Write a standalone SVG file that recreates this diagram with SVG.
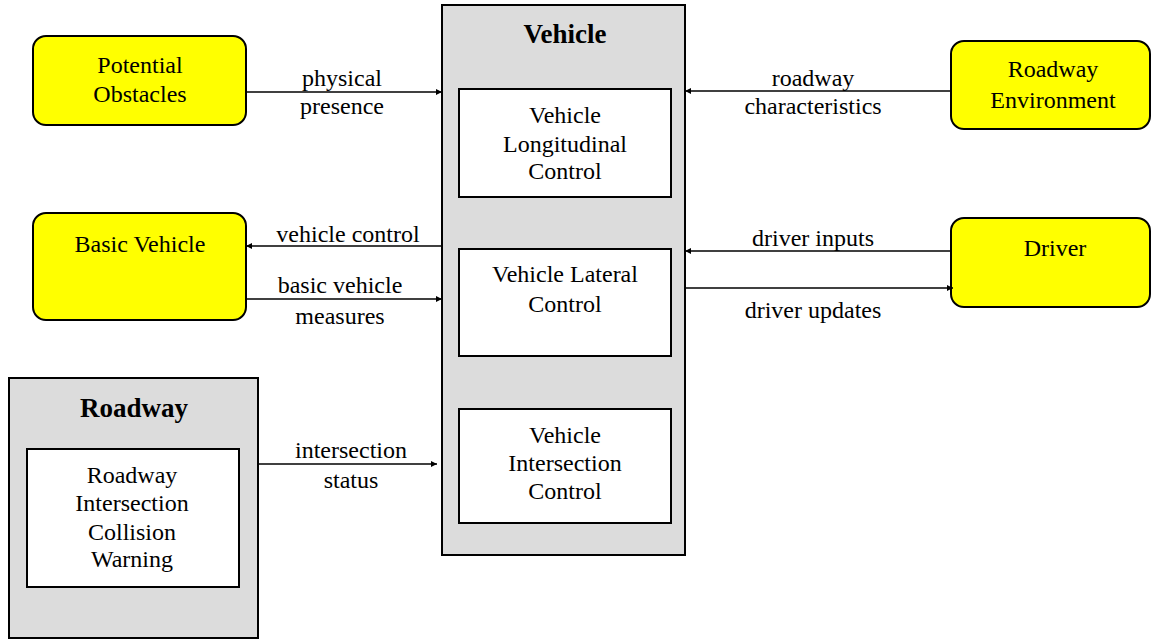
<svg xmlns="http://www.w3.org/2000/svg" width="1151" height="640" viewBox="0 0 1151 640">
<style>
text{font-family:"Liberation Serif","Times New Roman",serif;font-size:24px;fill:#000;text-anchor:middle}
.t{font-weight:bold;font-size:27px}
.ext{fill:#ffff00;stroke:#000;stroke-width:2}
.cont{fill:#dcdcdc;stroke:#000;stroke-width:2}
.inner{fill:#fff;stroke:#000;stroke-width:2}
.c{stroke:#000;stroke-width:1.5;fill:none;marker-end:url(#a)}
</style>
<defs>
<marker id="a" viewBox="0 0 6 6" refX="6" refY="3" markerWidth="4" markerHeight="4" orient="auto" markerUnits="strokeWidth">
<path d="M0,0 L6,3 L0,6 z" fill="#000"/>
</marker>
</defs>
<g id="vehicle">
<rect class="cont" x="442" y="5" width="243" height="550"/>
<text class="t" x="565" y="43">Vehicle</text>
</g>
<g id="longitudinal">
<rect class="inner" x="459" y="89" width="212" height="108"/>
<text x="565" y="123">Vehicle</text>
<text x="565" y="152">Longitudinal</text>
<text x="565" y="179">Control</text>
</g>
<g id="lateral">
<rect class="inner" x="459" y="249" width="212" height="107"/>
<text x="565" y="282">Vehicle Lateral</text>
<text x="565" y="312">Control</text>
</g>
<g id="intersection">
<rect class="inner" x="459" y="409" width="212" height="114"/>
<text x="565" y="443">Vehicle</text>
<text x="565" y="471">Intersection</text>
<text x="565" y="499">Control</text>
</g>
<g id="obstacles">
<rect class="ext" x="33" y="36" width="213" height="89" rx="13"/>
<text x="140" y="73">Potential</text>
<text x="140" y="102">Obstacles</text>
</g>
<g id="basic-vehicle">
<rect class="ext" x="33" y="213" width="213" height="107" rx="13"/>
<text x="140" y="252">Basic Vehicle</text>
</g>
<g id="environment">
<rect class="ext" x="951" y="41" width="199" height="88" rx="13"/>
<text x="1053" y="77">Roadway</text>
<text x="1053" y="108">Environment</text>
</g>
<g id="driver">
<rect class="ext" x="951" y="218" width="199" height="89" rx="13"/>
<text x="1055" y="256">Driver</text>
</g>
<g id="roadway">
<rect class="cont" x="9" y="378" width="249" height="260"/>
<text class="t" x="134" y="417">Roadway</text>
</g>
<g id="ricw">
<rect class="inner" x="27" y="449" width="212" height="138"/>
<text x="132" y="483">Roadway</text>
<text x="132" y="511">Intersection</text>
<text x="132" y="540">Collision</text>
<text x="132" y="567">Warning</text>
</g>
<g id="connectors">
<line class="c" x1="246" y1="92" x2="442" y2="92"/>
<text x="342" y="86">physical</text>
<text x="342" y="114">presence</text>
<line class="c" x1="951" y1="91" x2="685" y2="91"/>
<text x="813" y="86">roadway</text>
<text x="813" y="114">characteristics</text>
<line class="c" x1="442" y1="246" x2="246" y2="246"/>
<text x="348" y="242">vehicle control</text>
<line class="c" x1="246" y1="299" x2="442" y2="299"/>
<text x="340" y="293">basic vehicle</text>
<text x="340" y="324">measures</text>
<line class="c" x1="951" y1="251" x2="685" y2="251"/>
<text x="813" y="246">driver inputs</text>
<line class="c" x1="685" y1="288" x2="953" y2="288"/>
<text x="813" y="318">driver updates</text>
<line class="c" x1="258" y1="464" x2="437" y2="464"/>
<text x="351" y="458">intersection</text>
<text x="351" y="488">status</text>
</g>
</svg>
